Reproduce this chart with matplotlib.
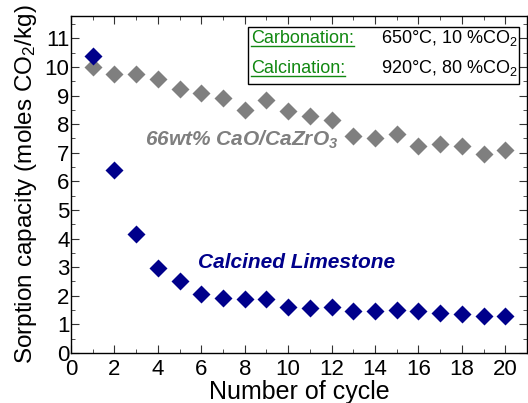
import matplotlib
matplotlib.use("Agg")
import matplotlib.pyplot as plt
from matplotlib.patches import Rectangle
from matplotlib.lines import Line2D
from matplotlib.ticker import MultipleLocator

plt.rcParams['font.family'] = ['Liberation Sans', 'DejaVu Sans']
plt.rcParams['mathtext.fontset'] = 'custom'
plt.rcParams['mathtext.rm'] = 'Liberation Sans'
plt.rcParams['mathtext.it'] = 'Liberation Sans:italic'
plt.rcParams['mathtext.bf'] = 'Liberation Sans:bold'
plt.rcParams['mathtext.bfit'] = 'Liberation Sans:bold:italic'

cycles = list(range(1, 21))
cao_cazro3 = [10.0, 9.77, 9.75, 9.57, 9.22, 9.08, 8.93, 8.51, 8.86, 8.45,
              8.29, 8.16, 7.59, 7.53, 7.66, 7.25, 7.31, 7.23, 6.94, 7.09]
limestone = [10.37, 6.39, 4.16, 2.97, 2.53, 2.07, 1.91, 1.89, 1.89, 1.62,
             1.57, 1.60, 1.47, 1.48, 1.50, 1.47, 1.39, 1.36, 1.31, 1.28]

gray = '#7f7f7f'
navy = '#00008b'
green = '#118811'

fig = plt.figure(figsize=(5.28, 4.03), dpi=100)
ax = fig.add_axes([71/528, 1-353/403, (527-71)/528, (353-16)/403])

ax.plot(cycles, cao_cazro3, 'D', color=gray, ms=9, mec='none')
ax.plot(cycles, limestone, 'D', color=navy, ms=9, mec='none')

ax.set_xlim(0, 21)
ax.set_ylim(0, 11.78)
ax.xaxis.set_major_locator(MultipleLocator(2))
ax.xaxis.set_minor_locator(MultipleLocator(1))
ax.yaxis.set_major_locator(MultipleLocator(1))
ax.yaxis.set_minor_locator(MultipleLocator(0.5))
ax.tick_params(which='both', direction='in', top=True, right=True,
               labelsize=16, color='#333333')
ax.tick_params(which='major', length=6)
ax.tick_params(which='minor', length=3)
ax.tick_params(axis='x', which='major', pad=4)
ax.tick_params(axis='y', which='major', pad=1)
for s in ax.spines.values():
    s.set_linewidth(1.0)

ax.set_xlabel('Number of cycle', fontsize=18, labelpad=0)
ax.set_ylabel('Sorption capacity (moles CO$_2$/kg)', fontsize=17.5, labelpad=4)

ax.text(3.4, 7.45, '66wt% CaO/CaZrO$_\\mathbfit{3}$', color=gray, fontsize=15,
        fontweight='bold', style='italic', va='center')
ax.text(5.85, 3.15, 'Calcined Limestone', color=navy, fontsize=15,
        fontweight='bold', style='italic', va='center')

# condition box
x0 = (248-71)/456*21
ax.add_patch(Rectangle((x0, 11.78*(1-(84.3-16)/337)), (519-248)/456*21,
                       (84.3-26.7)/337*11.78, fill=False, lw=1.0,
                       edgecolor='black', zorder=5))
rows = [('Carbonation:', '650\u00b0C, 10 %CO$_2$', 10.82),
        ('Calcination:', '920\u00b0C, 80 %CO$_2$', 9.8)]
labels = []
for lab, val, yy in rows:
    t = ax.text(x0 + 0.15, yy, lab, color=green, fontsize=13, va='baseline')
    labels.append(t)
    ax.text(20.6, yy, val, color='black', fontsize=13, va='baseline', ha='right')

fig.canvas.draw()
r = fig.canvas.get_renderer()
for t in labels:
    bb = t.get_window_extent(r)
    y = bb.y0 + 1
    fig.add_artist(Line2D([bb.x0 / 528, bb.x1 / 528], [y / 403, y / 403],
                          color=green, lw=1.0))

fig.savefig('out.png', dpi=100)
